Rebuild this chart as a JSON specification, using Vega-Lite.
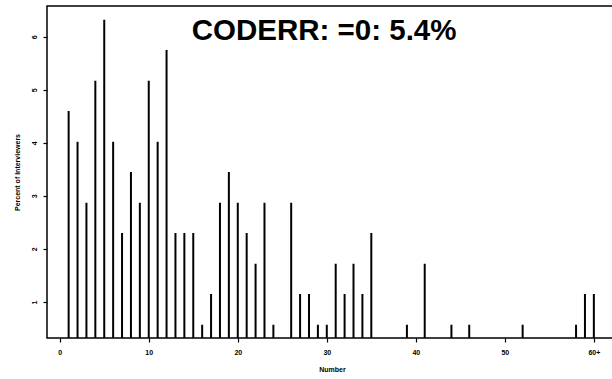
{
  "$schema": "https://vega.github.io/schema/vega-lite/v6.json",
  "autosize": "none",
  "width": 570,
  "height": 332,
  "padding": {"left": 47, "top": 6, "right": 0, "bottom": 41},
  "background": "white",
  "config": {
    "view": {"stroke": "black", "strokeWidth": 1.5},
    "axis": {"font": "Liberation Sans", "labelFont": "Liberation Sans", "titleFont": "Liberation Sans", "labelColor": "black", "titleColor": "black", "tickColor": "black", "domain": false, "grid": false, "labelFontWeight": "bold", "titleFontWeight": "bold", "labelFontSize": 7, "titleFontSize": 7, "tickSize": 4, "tickWidth": 1.2}
  },
  "datasets": {
    "bars": [
      {"n": 1, "pct": 4.60}, {"n": 2, "pct": 4.02}, {"n": 3, "pct": 2.87}, {"n": 4, "pct": 5.17},
      {"n": 5, "pct": 6.32}, {"n": 6, "pct": 4.02}, {"n": 7, "pct": 2.30}, {"n": 8, "pct": 3.45},
      {"n": 9, "pct": 2.87}, {"n": 10, "pct": 5.17}, {"n": 11, "pct": 4.02}, {"n": 12, "pct": 5.75},
      {"n": 13, "pct": 2.30}, {"n": 14, "pct": 2.30}, {"n": 15, "pct": 2.30}, {"n": 16, "pct": 0.57},
      {"n": 17, "pct": 1.15}, {"n": 18, "pct": 2.87}, {"n": 19, "pct": 3.45}, {"n": 20, "pct": 2.87},
      {"n": 21, "pct": 2.30}, {"n": 22, "pct": 1.72}, {"n": 23, "pct": 2.87}, {"n": 24, "pct": 0.57},
      {"n": 26, "pct": 2.87}, {"n": 27, "pct": 1.15}, {"n": 28, "pct": 1.15}, {"n": 29, "pct": 0.57},
      {"n": 30, "pct": 0.57}, {"n": 31, "pct": 1.72}, {"n": 32, "pct": 1.15}, {"n": 33, "pct": 1.72},
      {"n": 34, "pct": 1.15}, {"n": 35, "pct": 2.30}, {"n": 39, "pct": 0.57}, {"n": 41, "pct": 1.72},
      {"n": 44, "pct": 0.57}, {"n": 46, "pct": 0.57}, {"n": 52, "pct": 0.57}, {"n": 58, "pct": 0.57},
      {"n": 59, "pct": 1.15}, {"n": 60, "pct": 1.15}
    ],
    "label": [{"text": "CODERR: =0: 5.4%"}]
  },
  "layer": [
    {
      "data": {"name": "bars"},
      "mark": {"type": "rule", "color": "black", "strokeWidth": 2, "clip": true},
      "encoding": {
        "x": {"field": "n", "type": "quantitative", "scale": {"domain": [-1.43, 62.6], "nice": false, "zero": false},
          "axis": {"values": [0, 10, 20, 30, 40, 50, 60], "title": "Number", "labelPadding": 6, "titlePadding": 10,
            "labelExpr": "datum.value == 60 ? '60+' : datum.label"}},
        "y": {"field": "pct", "type": "quantitative", "scale": {"domain": [0.32, 6.58], "nice": false, "zero": false},
          "axis": {"values": [1, 2, 3, 4, 5, 6], "format": "d", "title": "Percent of Interviewers", "labelAngle": -90, "labelAlign": "center", "labelBaseline": "bottom", "labelPadding": 6, "titlePadding": 10}},
        "y2": {"datum": 0}
      }
    },
    {
      "data": {"name": "label"},
      "mark": {"type": "text", "font": "Liberation Sans", "fontWeight": "bold", "fontSize": 29.5, "align": "center", "baseline": "alphabetic", "color": "black"},
      "encoding": {
        "text": {"field": "text"},
        "x": {"datum": 29.7},
        "y": {"datum": 5.94}
      }
    }
  ]
}
